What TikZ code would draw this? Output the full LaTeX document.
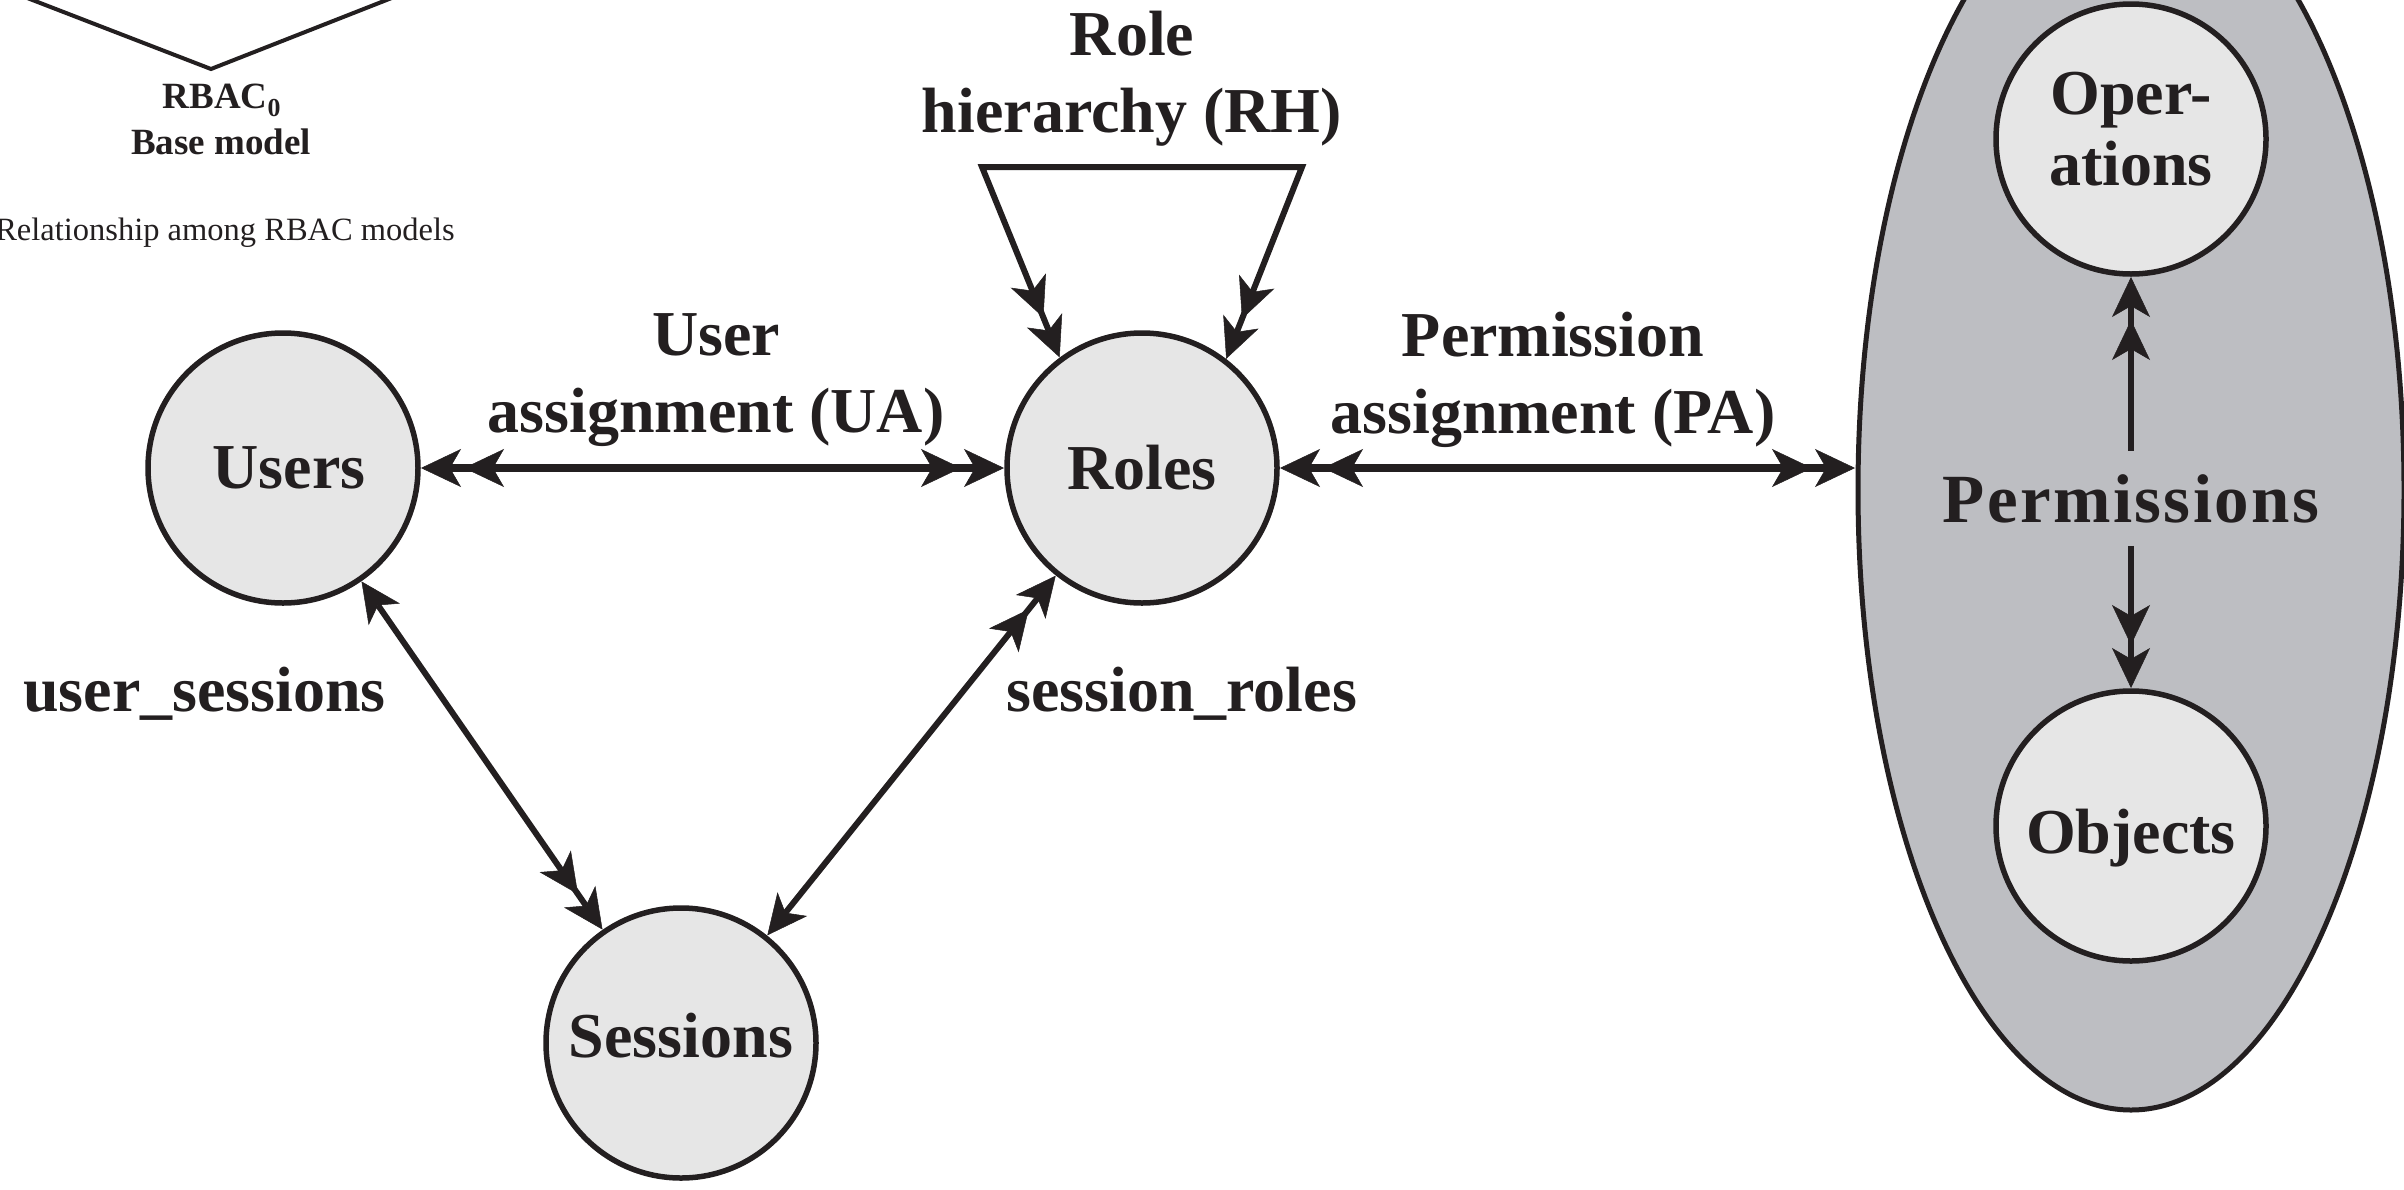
\documentclass[tikz,border=0pt]{standalone}
\usepackage{fontspec}
\setmainfont{Liberation Serif}
\usetikzlibrary{arrows.meta,shapes.geometric}
\definecolor{ink}{HTML}{231F20}
\definecolor{disc}{HTML}{E6E6E6}
\definecolor{shell}{HTML}{BDBEC2}
\newcommand\labfont{\fontsize{64}{77}\selectfont\bfseries}
\newcommand\smallbf{\fontsize{37}{46}\selectfont\bfseries}
\newcommand\capfont{\fontsize{32.5}{38}\selectfont}
% shift the ink of a label without changing its box
\newcommand\nudge[2]{\raisebox{#1}[\height][\depth]{#2}}

\begin{document}
\begin{tikzpicture}[x=1pt,y=-1pt,
  >={Stealth[length=40pt,width=38pt,inset=11pt,line width=0.5pt,sep=3pt]},
  ent/.style={circle,draw=ink,fill=disc,line width=5.5pt,minimum size=270pt,
              inner sep=0pt,outer sep=0pt,text=ink,font=\labfont,align=center},
  lab/.style={text=ink,font=\labfont,align=center,inner sep=0pt},
  heavy/.style={draw=ink,line width=8pt},
  light/.style={draw=ink,line width=6pt,line join=miter},
]
\useasboundingbox (0,0) rectangle (2404,1189);
\clip (0,0) rectangle (2404,1189);

% tail of the model-relationship figure above
\draw[ink,line width=4pt] (-40,-28) -- (211,69) -- (440,-21);
\node[text=ink,font=\smallbf,anchor=base,inner sep=0pt] (rbac) at (222,108) {RBAC\textsubscript{0}};
\node[text=ink,font=\smallbf,anchor=base,inner sep=0pt] (base) at (221,154) {Base model};
\node[text=ink,font=\capfont,anchor=base east,inner sep=0pt] (cap) at (455,240) {Relationship among RBAC models};

% permission container
\node[ellipse,draw=ink,fill=shell,line width=5pt,minimum width=546pt,
      minimum height=1240pt,inner sep=0pt,outer sep=0pt] (perms) at (2131,490) {};

% entities
\node[ent] (users) at (283,468) {\hspace*{12pt}Users};
\node[ent] (roles) at (1142,468) {Roles};
\node[ent] (sessions) at (681,1043) {\nudge{7pt}{Sessions}};
\node[ent,font=\fontsize{64}{71}\selectfont\bfseries] (ops) at (2131,139) {\nudge{10pt}{Oper-}\\\nudge{10pt}{ations}};
\node[ent] (objs) at (2131,826) {\nudge{-12pt}{Objects}};
\node[lab,anchor=base,inner sep=23pt,font=\fontsize{69}{80}\selectfont\bfseries\addfontfeature{LetterSpace=3.5}] (permtxt) at (2131,522) {Permissions};

% relation labels
\node[lab] (ua) at (716,380) {User\\assignment (UA)};
\node[lab] (pa) at (1553,380) {Permission\\assignment (PA)};
\node[lab] (rh) at (1132,79) {Role\\hierarchy (RH)};
\node[lab,anchor=base west] (us) at (23,711) {user\_sessions};
\node[lab,anchor=base west] (sr) at (1006,711) {session\_roles};

% role hierarchy loop
\coordinate (rhR) at (1302,167);
\coordinate (rhL) at (982,167);

% connectors
\draw[heavy,<<->>] (users) -- (roles);
\draw[heavy,<<->>] (roles.east) -- (roles.east -| perms.west);
\draw[light,<->>] (users) -- (sessions);
\draw[light,<->>] (sessions) -- (roles);
\draw[light,<<->>] (roles.52.6) -- (rhR) -- (rhL) -- (roles.127.4);
\draw[light,->>] (permtxt.north) -- (ops);
\draw[light,->>] (permtxt.south) -- (objs);
\end{tikzpicture}
\end{document}
